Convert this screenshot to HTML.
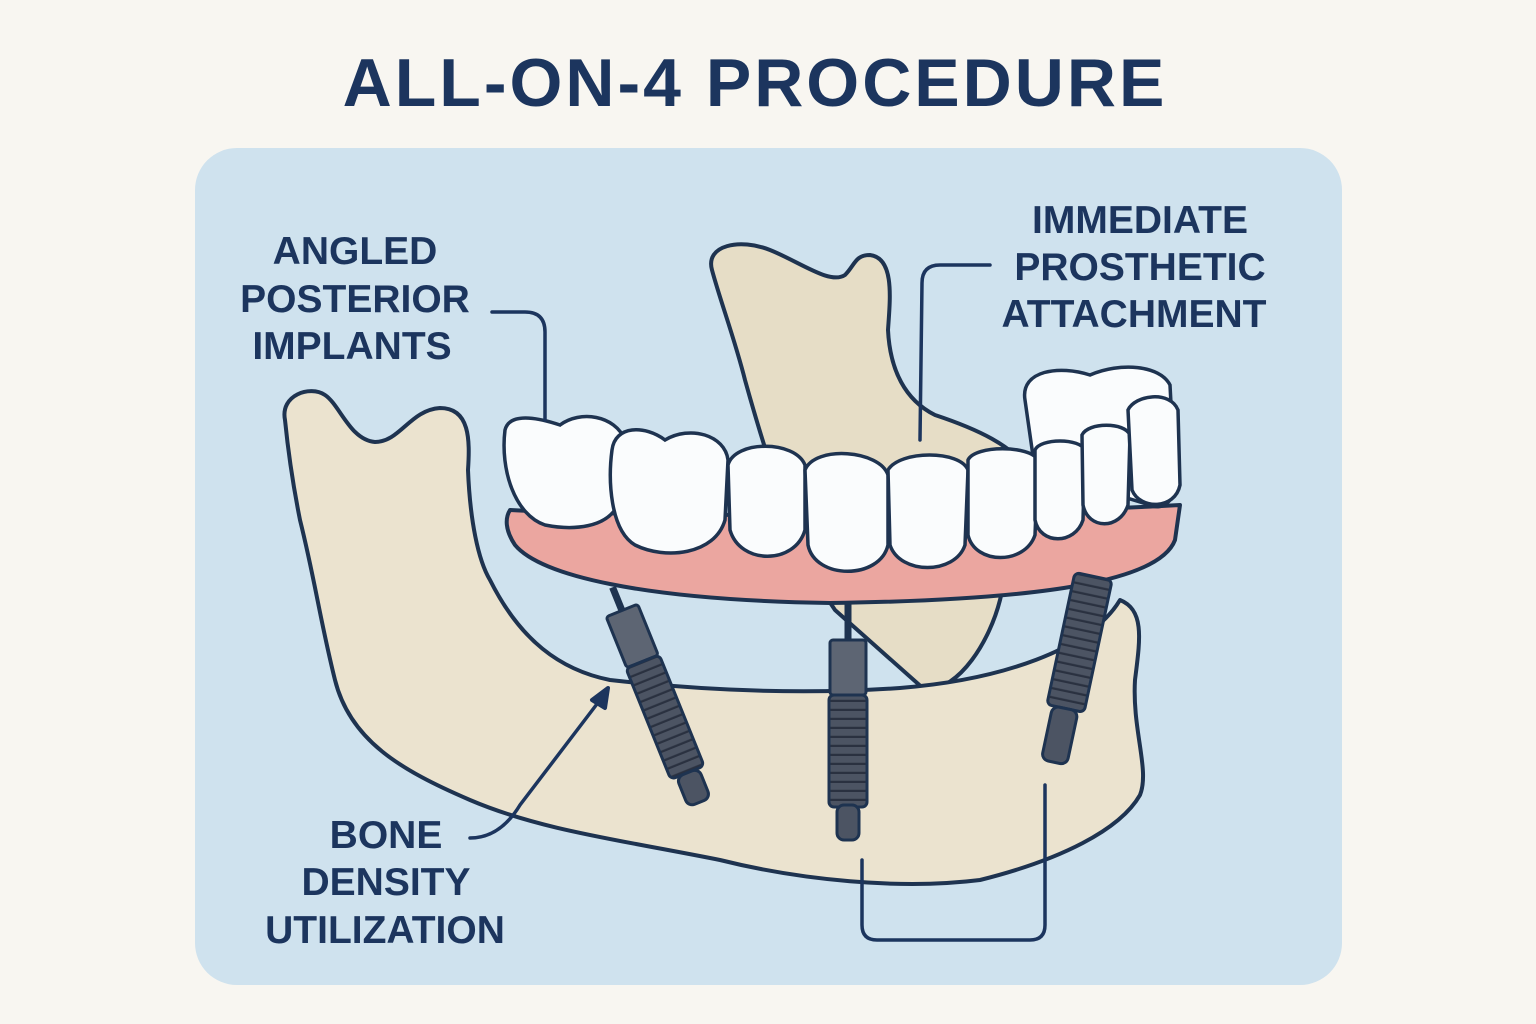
<!DOCTYPE html>
<html><head><meta charset="utf-8"><style>
html,body{margin:0;padding:0;background:#f8f6f1;}
svg{display:block}
text{font-family:"Liberation Sans",sans-serif;font-weight:bold;fill:#1c355e;}
</style></head><body>
<svg width="1536" height="1024" viewBox="0 0 1536 1024" xmlns="http://www.w3.org/2000/svg">
<defs>
<pattern id="thr" width="10" height="9" patternUnits="userSpaceOnUse"><rect width="10" height="9" fill="#4c5463"/><line x1="0" y1="8" x2="10" y2="8" stroke="#2a3140" stroke-width="2.5"/></pattern>
</defs>
<rect width="1536" height="1024" fill="#f8f6f1"/>
<text x="755" y="106" font-size="68" text-anchor="middle" letter-spacing="3">ALL-ON-4 PROCEDURE</text>
<rect x="195" y="148" width="1147" height="837" rx="42" fill="#cfe2ee"/>
<g stroke="#1e3350" stroke-width="4" stroke-linejoin="round" stroke-linecap="round">
<path d="M712,270 C705,245 740,238 770,250 C800,262 830,285 845,275 C855,265 855,255 870,255 C895,258 890,300 888,330 C890,370 905,400 935,415 C980,430 1010,445 1030,470 L1000,600 C990,640 960,690 925,690 L835,610 C800,560 770,470 745,380 C735,340 720,300 712,270 Z" fill="#e6ddc6"/>
<path d="M285,420 C280,395 310,385 325,395 C340,405 350,440 375,442 C400,442 410,410 440,408 C470,408 470,440 468,470 C470,520 478,560 490,580 C520,640 560,670 610,680 C700,690 800,695 900,688 C1000,680 1090,650 1120,600 C1145,610 1140,640 1135,680 C1132,730 1150,770 1140,795 C1120,830 1060,860 980,880 C900,890 800,880 720,860 C620,840 540,830 470,800 C400,770 350,740 335,680 C320,620 315,580 300,520 C292,480 288,450 285,420 Z" fill="#ebe3cf"/>
<path d="M510,510 C600,515 900,520 1180,505 L1175,540 C1160,580 1050,600 830,603 C640,600 540,575 515,545 C505,530 505,518 510,510 Z" fill="#eba6a0"/>
</g>
<g stroke="#1e3350" stroke-width="3.5" fill="#fafcfd">
<path d="M1025,400 C1020,370 1060,365 1090,375 C1120,362 1160,365 1170,385 L1175,480 C1175,505 1160,510 1150,505 L1035,470 Z"/>
<path d="M505,430 C510,410 545,420 560,425 C580,410 615,415 625,440 L620,500 C610,530 570,530 545,525 C515,515 500,470 505,430 Z"/>
<path d="M612,450 C615,425 645,425 665,440 C690,425 725,435 728,460 L725,520 C715,555 665,560 635,545 C610,530 608,480 612,450 Z"/>
<path d="M728,465 C735,440 795,440 805,465 L805,530 C795,565 740,565 730,530 Z"/>
<path d="M805,470 C815,445 880,450 888,475 L888,545 C880,580 815,580 808,545 Z"/>
<path d="M888,470 C900,450 960,450 968,470 L965,545 C955,575 900,575 890,545 Z"/>
<path d="M968,460 C975,445 1030,445 1038,460 L1035,535 C1025,565 975,565 968,535 Z"/>
<path d="M1035,450 C1040,438 1080,438 1085,450 L1083,520 C1075,545 1040,545 1035,520 Z"/>
<path d="M1082,435 C1088,422 1125,422 1130,435 L1128,505 C1120,530 1088,530 1083,505 Z"/>
<path d="M1128,410 C1135,395 1170,390 1178,410 L1180,485 C1175,510 1140,510 1132,490 Z"/>
</g>
<g stroke="#1e3350" stroke-width="3">
<g transform="translate(650,680) rotate(-22)"><line x1="0" y1="-100" x2="0" y2="-70" stroke-width="7"/><rect x="-17" y="-75" width="34" height="55" rx="3" fill="#5d6573"/><rect x="-18" y="-20" width="36" height="120" rx="5" fill="url(#thr)"/><rect x="-12" y="100" width="24" height="32" rx="7" fill="#4c5463"/></g>
<g><line x1="848" y1="603" x2="848" y2="640" stroke-width="7"/><rect x="830" y="640" width="36" height="55" rx="3" fill="#5d6573"/><rect x="829" y="695" width="38" height="112" rx="5" fill="url(#thr)"/><rect x="837" y="805" width="22" height="35" rx="7" fill="#4c5463"/></g>
<g transform="translate(1080,640) rotate(12)"><rect x="-19" y="-65" width="38" height="135" rx="5" fill="url(#thr)"/><rect x="-13" y="70" width="26" height="55" rx="7" fill="#4c5463"/></g>
</g>
<g fill="none" stroke="#1c355e" stroke-width="3.5" stroke-linecap="round">
<path d="M492,312 L525,312 Q545,312 545,332 L545,420"/>
<path d="M990,265 L940,265 Q922,265 922,283 L920,440"/>
<path d="M470,838 Q500,838 520,805 L600,700"/>
<path d="M862,860 L862,925 Q862,940 877,940 L1030,940 Q1045,940 1045,925 L1045,785"/>
</g>
<path d="M608,688 L592,700 L605,708 Z" fill="#1c355e" stroke="#1c355e" stroke-width="4" stroke-linejoin="round"/>
<g font-size="39" text-anchor="middle">
<text x="355" y="264">ANGLED</text><text x="355" y="312">POSTERIOR</text><text x="352" y="359">IMPLANTS</text>
<text x="1140" y="233">IMMEDIATE</text><text x="1140" y="280">PROSTHETIC</text><text x="1134" y="327">ATTACHMENT</text>
<text x="386" y="848">BONE</text><text x="386" y="895">DENSITY</text><text x="385" y="943">UTILIZATION</text>
</g>
</svg>
</body></html>
